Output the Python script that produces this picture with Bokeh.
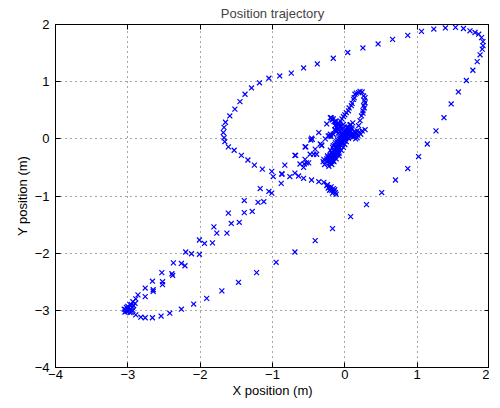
from bokeh.plotting import figure
from bokeh.layouts import row
from bokeh.models import (Range1d, FixedTicker, LinearAxis, CustomJSTickFormatter,
                          ColumnDataSource, Spacer)
from bokeh.embed import file_html
from bokeh.resources import INLINE

# ---- data (metres) ----
top_arc_x = [-0.57, -0.38, -0.16, 0.04, 0.25, 0.46, 0.66, 0.87, 1.06, 1.23,
             1.39, 1.53, 1.64, 1.73, 1.80, 1.85, 1.89, 1.91, 1.91, 1.90,
             1.87, 1.83, 1.77, 1.68, 1.57, 1.47, 1.37, 1.26, 1.14, 1.02,
             0.87, 0.70, 0.51, 0.30, 0.08, -0.17, -0.41, -0.69, -0.95, -1.22,
             -1.47, -1.70, -1.91, -2.09, -2.26, -2.42, -2.54, -2.66, -2.76, -2.82,
             -2.89, -2.95]
top_arc_y = [1.24, 1.31, 1.41, 1.51, 1.59, 1.66, 1.74, 1.81, 1.88, 1.92,
             1.94, 1.95, 1.93, 1.89, 1.86, 1.83, 1.77, 1.70, 1.63, 1.57,
             1.47, 1.35, 1.20, 1.02, 0.82, 0.61, 0.37, 0.14, -0.09, -0.31,
             -0.52, -0.72, -0.94, -1.15, -1.36, -1.57, -1.78, -1.98, -2.16, -2.34,
             -2.51, -2.66, -2.79, -2.89, -2.98, -3.05, -3.10, -3.13, -3.13, -3.12,
             -3.08, -3.03]

corner_x = [-3.03, -3.01, -2.98, -2.99, -3.02, -2.96, -2.97, -3.04, -2.94, -2.92,
            -2.95, -3.00, -2.90, -2.93, -3.05]
corner_y = [-2.99, -3.02, -3.00, -2.96, -2.95, -2.98, -3.04, -3.03, -2.95, -2.92,
            -2.90, -2.93, -2.88, -3.00, -2.98]

diag_x = [-2.97, -2.93, -2.89, -2.86, -2.76, -2.76, -2.65, -2.65, -2.66, -2.52,
          -2.52, -2.53, -2.39, -2.38, -2.37, -2.26, -2.21, -2.20, -2.12, -2.01,
          -2.01, -1.94, -1.83, -1.81, -1.77, -1.63, -1.61, -1.57, -1.46, -1.39,
          -1.28, -1.39, -1.20, -1.12, -1.17, -1.05, -1.01, -0.88, -0.87, -0.83,
          -0.69, -0.55, -0.47]
diag_y = [-2.90, -2.85, -2.80, -2.73, -2.61, -2.76, -2.64, -2.67, -2.49, -2.50,
          -2.55, -2.34, -2.36, -2.39, -2.17, -2.18, -2.22, -1.98, -2.01, -2.02,
          -1.77, -1.83, -1.82, -1.54, -1.65, -1.65, -1.30, -1.48, -1.46, -1.29,
          -1.27, -1.08, -1.11, -1.10, -0.87, -0.92, -0.95, -0.78, -0.62, -0.46,
          -0.29, -0.14, -0.02]

left_loop_x = [-0.74, -0.90, -1.05, -1.18, -1.29, -1.38, -1.45, -1.52, -1.59, -1.65,
               -1.67, -1.68, -1.67, -1.66, -1.61, -1.53, -1.43, -1.34, -1.25, -1.14,
               -1.01]
left_loop_y = [1.15, 1.10, 1.06, 0.98, 0.89, 0.78, 0.65, 0.52, 0.40, 0.29,
               0.20, 0.11, 0.02, -0.05, -0.14, -0.20, -0.29, -0.37, -0.46, -0.53,
               -0.57]

tail_x = [-0.99, -0.87, -0.76, -0.69, -0.64, -0.57, -0.46, -0.36, -0.29, -0.25,
          -0.22, -0.20, -0.18, -0.15, -0.13, -0.17, -0.21, -0.19, -0.14, -0.12,
          -0.16, -0.24, -0.23]
tail_y = [-0.66, -0.61, -0.66, -0.60, -0.65, -0.69, -0.72, -0.75, -0.76, -0.82,
          -0.85, -0.88, -0.90, -0.92, -0.94, -0.95, -0.90, -0.84, -0.89, -0.97,
          -0.87, -0.80, -0.86]

small_loop_x = [0.17, 0.19, 0.21, 0.23, 0.25, 0.26, 0.27, 0.26, 0.24, 0.21,
                0.19, 0.14, 0.12, 0.09, 0.05, 0.00, -0.04, -0.09, -0.14, -0.20,
                -0.27, -0.34, -0.41, -0.48, -0.55, -0.62]
small_loop_y = [0.14, 0.23, 0.32, 0.40, 0.49, 0.58, 0.67, 0.75, 0.82, 0.83,
                0.81, 0.78, 0.69, 0.58, 0.49, 0.42, 0.35, 0.26, 0.16, 0.08,
                0.00, -0.09, -0.18, -0.27, -0.36, -0.44]

small_loop2_x = [0.16, 0.13, 0.10, 0.06, 0.02, -0.02, -0.06, -0.11,
                 0.28, 0.28, 0.27, 0.25]
small_loop2_y = [0.80, 0.72, 0.62, 0.54, 0.46, 0.39, 0.31, 0.22,
                 0.72, 0.63, 0.54, 0.45]

scatter_x = [-0.68, -0.56, -0.50, -0.43, -0.54, -0.32, -0.45, -0.36, -0.21, -0.25,
             -0.20, -0.18, -0.13, -0.23, -0.46, -0.32, -0.39, -0.29, -0.53, -0.57]
scatter_y = [-0.29, -0.44, -0.42, -0.27, -0.14, -0.11, -0.01, 0.11, 0.05, 0.26,
             0.37, 0.35, 0.29, 0.05, 0.01, -0.12, -0.27, -0.36, -0.42, -0.50]

center_x = [-0.22, -0.20, -0.18, -0.16, -0.14, -0.12, -0.10, -0.08, -0.06, -0.04,
            -0.02, 0.00, 0.02, 0.04, 0.06, 0.08, 0.10,
            -0.25, -0.24, -0.20, -0.15, -0.10, -0.08, -0.12, -0.05, -0.02,
            0.00, 0.02, -0.06, -0.03, 0.01, 0.05, 0.08, 0.12, 0.16, 0.20,
            0.24, 0.28, 0.14, 0.18, 0.22, 0.05, 0.03, -0.02,
            -0.04, -0.07, -0.10, -0.13, -0.16, -0.19, -0.12, -0.09,
            -0.25, -0.28, -0.22, -0.18, -0.15, -0.30]
center_y = [-0.42, -0.38, -0.35, -0.30, -0.26, -0.22, -0.18, -0.14, -0.10, -0.06,
            -0.02, 0.02, 0.05, 0.08, 0.11, 0.14, 0.17,
            -0.35, -0.30, -0.28, -0.20, -0.25, -0.30, -0.35, -0.20, -0.15,
            -0.10, -0.05, 0.00, 0.05, 0.10, 0.02, 0.06, 0.08, 0.10, 0.12,
            0.14, 0.16, 0.04, 0.06, 0.08, 0.15, 0.20, 0.25,
            0.18, 0.22, 0.27, 0.31, 0.35, 0.37, 0.12, 0.15,
            -0.40, -0.45, -0.48, -0.45, -0.40, -0.40]

blob_x = [-0.23, -0.21, -0.19, -0.17, -0.15, -0.13, -0.11, -0.09, -0.07, -0.05,
          -0.03, -0.01, 0.01, 0.03, 0.05, 0.07, 0.09, 0.11, 0.13, 0.15,
          -0.20, -0.18, -0.16, -0.14, -0.12, -0.10, -0.08, -0.06, -0.04, -0.02,
          -0.17, -0.15, -0.13, -0.11, -0.09, -0.07, -0.05, 0.10, 0.13, 0.17]
blob_y = [-0.33, -0.36, -0.31, -0.34, -0.28, -0.30, -0.24, -0.20, -0.16, -0.12,
          -0.08, -0.03, 0.00, 0.03, 0.01, 0.04, 0.07, 0.03, 0.06, 0.00,
          -0.42, -0.40, -0.38, -0.33, -0.28, -0.22, -0.25, -0.05, 0.10, 0.02,
          0.33, 0.30, 0.24, 0.20, 0.10, 0.13, 0.22, 0.10, 0.12, 0.02]

blob2_x = [-0.20, -0.17, -0.14, -0.11, -0.08, -0.05, -0.02, 0.01, 0.04, 0.07,
           -0.18, -0.15, -0.12, -0.09, -0.06, -0.03, 0.00, 0.03, 0.06, 0.09,
           -0.16, -0.13, -0.10, -0.07, -0.04, -0.01, 0.02, 0.05, 0.08, 0.11,
           -0.19, -0.16, -0.13, -0.10, -0.07, -0.21, -0.18, -0.15, -0.12, -0.09]
blob2_y = [-0.20, -0.15, -0.10, -0.05, 0.00, 0.05, 0.10, 0.15, 0.20, 0.24,
           -0.24, -0.19, -0.14, -0.09, -0.04, 0.01, 0.06, 0.11, 0.15, 0.19,
           -0.12, -0.07, -0.02, 0.03, 0.08, 0.12, 0.17, 0.21, 0.25, 0.28,
           0.04, 0.08, 0.15, 0.18, 0.26, -0.30, -0.26, -0.20, -0.16, -0.11]

tick_values = [-4, -3, -2, -1, 0, 1, 2]

xs = (top_arc_x + corner_x + diag_x + left_loop_x + tail_x + small_loop_x +
      small_loop2_x + scatter_x + center_x + blob_x + blob2_x)
ys = (top_arc_y + corner_y + diag_y + left_loop_y + tail_y + small_loop_y +
      small_loop2_y + scatter_y + center_y + blob_y + blob2_y)
source = ColumnDataSource(data=dict(x=xs, y=ys))

FONT = "Liberation Sans"
FS = "13px"

p = figure(frame_width=434, frame_height=343, x_range=Range1d(-4, 2), y_range=Range1d(-4, 2),
           output_backend="svg", toolbar_location=None, title="Position trajectory",
           min_border_left=0, min_border_right=0, min_border_top=0, min_border_bottom=0,
           x_axis_label="X position (m)", y_axis_label="Y position (m)")
p.background_fill_color = "white"
p.border_fill_color = "white"
p.outline_line_color = "black"
p.outline_line_width = 1

p.title.text_font = FONT
p.title.text_font_size = FS
p.title.text_font_style = "normal"
p.title.align = "center"
p.title.standoff = 7

fmt = CustomJSTickFormatter(code="return tick < 0 ? '\\u2212' + Math.abs(tick) : String(tick);")

for ax in [p.xaxis[0], p.yaxis[0]]:
    ax.ticker = FixedTicker(ticks=tick_values)
    ax.formatter = fmt
    ax.major_tick_in = 5
    ax.major_tick_out = 0
    ax.minor_tick_line_color = None
    ax.axis_line_color = "black"
    ax.major_tick_line_color = "black"
    ax.major_label_text_font = FONT
    ax.major_label_text_font_size = FS
    ax.major_label_text_color = "black"
    ax.axis_label_text_font = FONT
    ax.axis_label_text_font_size = FS
    ax.axis_label_text_font_style = "normal"
    ax.axis_label_text_color = "black"

p.xaxis[0].major_label_standoff = 2
p.xaxis[0].axis_label_standoff = 1
p.yaxis[0].major_label_standoff = 6
p.yaxis[0].axis_label_standoff = 2

for side in ["above", "right"]:
    ax2 = LinearAxis(ticker=FixedTicker(ticks=tick_values), major_tick_in=5, major_tick_out=0,
                     minor_tick_line_color=None, major_label_text_font_size="1px",
                     major_label_text_color=None, major_label_standoff=0,
                     axis_line_color="black")
    p.add_layout(ax2, side)

for g in [p.xgrid[0], p.ygrid[0]]:
    g.ticker = FixedTicker(ticks=tick_values)
    g.grid_line_color = "black"
    g.grid_line_alpha = 0.7
    g.grid_line_dash = "1 4"
    g.grid_line_width = 1

p.scatter("x", "y", source=source, marker="x", size=7, line_color="#0000ff", line_width=1.2)

layout = row(Spacer(width=11, height=10), p)
open("out.html", "w").write(file_html(layout, INLINE))
